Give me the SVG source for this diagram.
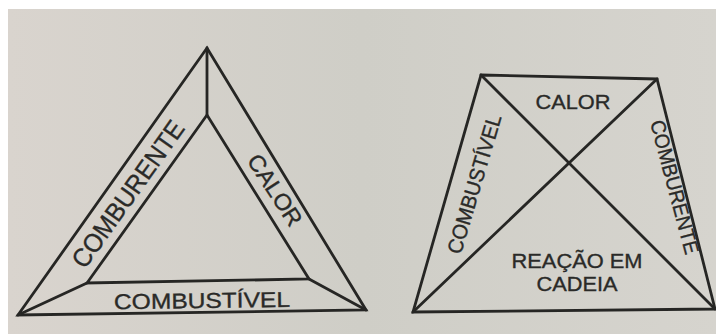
<svg xmlns="http://www.w3.org/2000/svg" width="716" height="334" viewBox="0 0 716 334">
<defs>
<linearGradient id="paper" x1="0" y1="0" x2="1" y2="0">
<stop offset="0" stop-color="#d9d4ce"/>
<stop offset="0.5" stop-color="#cfcec7"/>
<stop offset="1" stop-color="#d6d4ce"/>
</linearGradient>
<style>
.ln{fill:none;stroke:#262624;stroke-width:2.8;stroke-linejoin:miter;stroke-linecap:round}
.t{font-family:"Liberation Sans",Arial,sans-serif;fill:#2a2a28;stroke:#2a2a28;stroke-width:0.35;text-anchor:middle}
</style>
</defs>
<rect x="0" y="0" width="716" height="334" fill="#ffffff"/>
<rect x="8" y="9" width="708" height="325" fill="url(#paper)"/>

<g id="triangle">
<polygon class="ln" points="207,48 18,315 366,310"/>
<polygon class="ln" points="207,115 87,283 309,279"/>
</g>
<g id="connectors">
<line class="ln" x1="207" y1="48" x2="207" y2="115"/>
<line class="ln" x1="18" y1="315" x2="87" y2="283"/>
<line class="ln" x1="366" y1="310" x2="309" y2="279"/>
<line class="ln" x1="481" y1="75" x2="715" y2="309"/>
<line class="ln" x1="657" y1="79" x2="413" y2="312"/>
</g>
<g id="tri-comburente">
<text class="t" font-size="26" transform="translate(128,194) rotate(-54.5)" x="0" y="9" textLength="174" lengthAdjust="spacingAndGlyphs">COMBURENTE</text>
</g>
<g id="tri-calor">
<text class="t" font-size="23" transform="translate(275,190) rotate(57)" x="0" y="8" textLength="81" lengthAdjust="spacingAndGlyphs">CALOR</text>
</g>
<g id="tri-combustivel">
<text class="t" font-size="21.5" transform="translate(202,300) rotate(-0.8)" x="0" y="8" textLength="176" lengthAdjust="spacingAndGlyphs">COMBUSTÍVEL</text>
</g>

<g id="tetrahedron">
<polygon class="ln" points="481,75 657,79 715,309 413,312"/>
</g>
<g id="tet-calor">
<text class="t" font-size="21" x="573" y="109" textLength="75" lengthAdjust="spacingAndGlyphs">CALOR</text>
</g>
<g id="tet-combustivel">
<text class="t" font-size="21" transform="translate(474,184) rotate(-73.5)" x="0" y="7.5" textLength="144" lengthAdjust="spacingAndGlyphs">COMBUSTÍVEL</text>
</g>
<g id="tet-comburente">
<text class="t" font-size="20.5" transform="translate(675,187) rotate(75)" x="0" y="7.5" textLength="138" lengthAdjust="spacingAndGlyphs">COMBURENTE</text>
</g>
<g id="tet-reacao">
<text class="t" font-size="21" x="577" y="268" textLength="131" lengthAdjust="spacingAndGlyphs">REAÇÃO EM</text>
<text class="t" font-size="21" x="577" y="291" textLength="81" lengthAdjust="spacingAndGlyphs">CADEIA</text>
</g>
</svg>
